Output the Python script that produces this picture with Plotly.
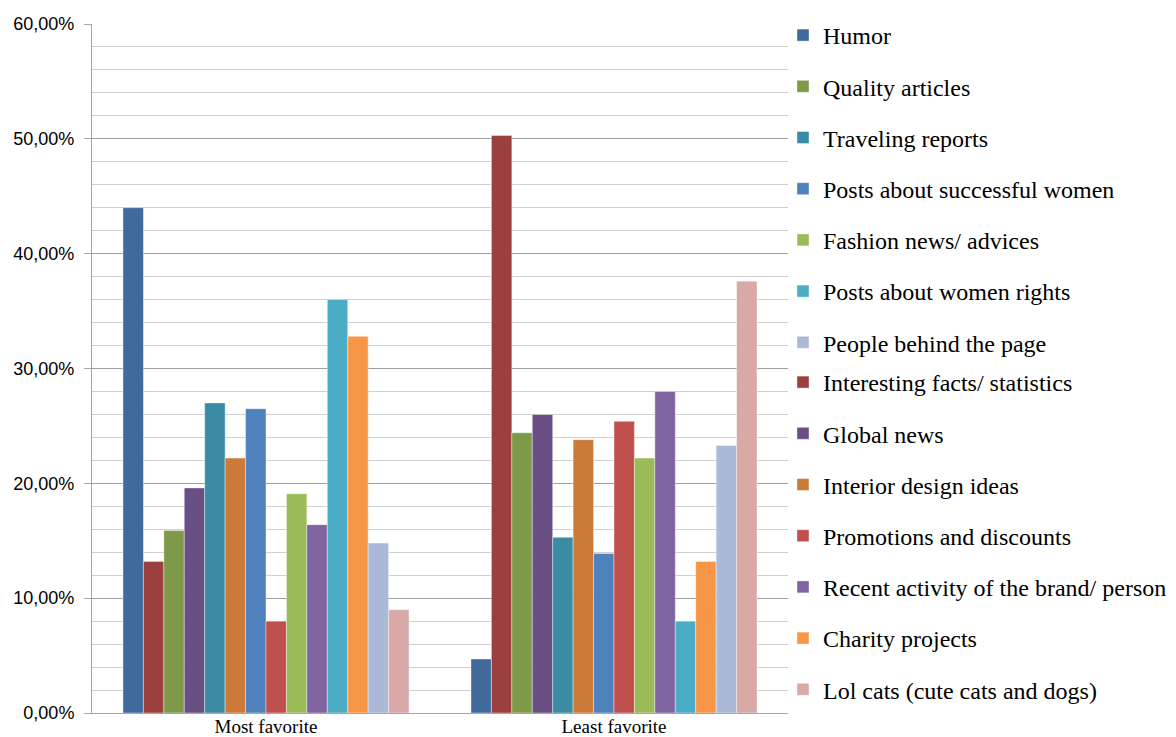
import plotly.graph_objects as go

categories = ["Most favorite", "Least favorite"]

# Series in bar order (left to right within each group)
series_names = [
    "Humor",
    "Interesting facts/ statistics",
    "Quality articles",
    "Global news",
    "Traveling reports",
    "Interior design ideas",
    "Posts about successful women",
    "Promotions and discounts",
    "Fashion news/ advices",
    "Recent activity of the brand/ person",
    "Posts about women rights",
    "Charity projects",
    "People behind the page",
    "Lol cats (cute cats and dogs)",
]

most_favorite = [44.0, 13.2, 15.9, 19.6, 27.0, 22.2, 26.5, 8.0, 19.1, 16.4, 36.0, 32.8, 14.8, 9.0]
least_favorite = [4.7, 50.3, 24.4, 26.0, 15.3, 23.8, 13.9, 25.4, 22.2, 28.0, 8.0, 13.2, 23.3, 37.6]

colors = [
    "#3F6A9B", "#9C403F", "#7E9A48", "#6A4F85", "#3A8BA3", "#CC7A38",
    "#4F81BD", "#C0504D", "#9BBB59", "#8064A2", "#4BACC6", "#F79646",
    "#A9B9D7", "#D9A9A8",
]

# Legend listing order
legend_order = [
    "Humor", "Quality articles", "Traveling reports", "Posts about successful women",
    "Fashion news/ advices", "Posts about women rights", "People behind the page",
    "Interesting facts/ statistics", "Global news", "Interior design ideas",
    "Promotions and discounts", "Recent activity of the brand/ person",
    "Charity projects", "Lol cats (cute cats and dogs)",
]

fig = go.Figure()
for i, name in enumerate(series_names):
    rank = legend_order.index(name)
    fig.add_trace(go.Bar(
        name=name,
        x=categories,
        y=[most_favorite[i] / 100, least_favorite[i] / 100],
        marker=dict(color=colors[i], line=dict(color="rgba(255,255,255,0.5)", width=0.8)),
        legendrank=rank,
        legendgroup=name,
        legend="legend" if rank < 7 else "legend2",
    ))

legend_font = dict(family="Liberation Serif, DejaVu Serif, serif", size=24, color="#000000")
plot_h = 737 - 24 - 24
plot_w = 1176 - 92 - 388

fig.update_layout(
    width=1176,
    height=737,
    margin=dict(l=92, r=388, t=24, b=24, autoexpand=False),
    paper_bgcolor="white",
    plot_bgcolor="white",
    separators=", ",
    barmode="group",
    bargap=0.178,
    bargroupgap=0,
    legend=dict(
        x=1.0 - 5 / plot_w, xanchor="left", y=1.0 + 11 / plot_h, yanchor="top",
        font=legend_font, tracegroupgap=17, itemwidth=30,
        bgcolor="rgba(0,0,0,0)",
    ),
    legend2=dict(
        x=1.0 - 5 / plot_w, xanchor="left", y=1.0 - 336 / plot_h, yanchor="top",
        font=legend_font, tracegroupgap=17, itemwidth=30,
        bgcolor="rgba(0,0,0,0)",
    ),
    xaxis=dict(
        showline=True, linecolor="#A6A6A6", linewidth=1,
        ticks="", showgrid=False, automargin=False,
        tickfont=dict(family="Liberation Serif, DejaVu Serif, serif", size=19, color="#000000"),
        ticklabelstandoff=-4,
    ),
    yaxis=dict(
        range=[0, 0.6], dtick=0.1, tickformat=".2%",
        showline=True, linecolor="#A6A6A6", linewidth=1,
        ticks="outside", ticklen=7, tickcolor="#A6A6A6",
        showgrid=True, gridcolor="#9E9E9E", gridwidth=1,
        zeroline=False, automargin=False,
        minor=dict(dtick=0.02, showgrid=True, gridcolor="#D0D0D0", gridwidth=1, ticks=""),
        tickfont=dict(family="Liberation Sans, Arial, sans-serif", size=18, color="#000000"),
        ticklabelstandoff=6,
    ),
)

fig.write_html("out.html")
